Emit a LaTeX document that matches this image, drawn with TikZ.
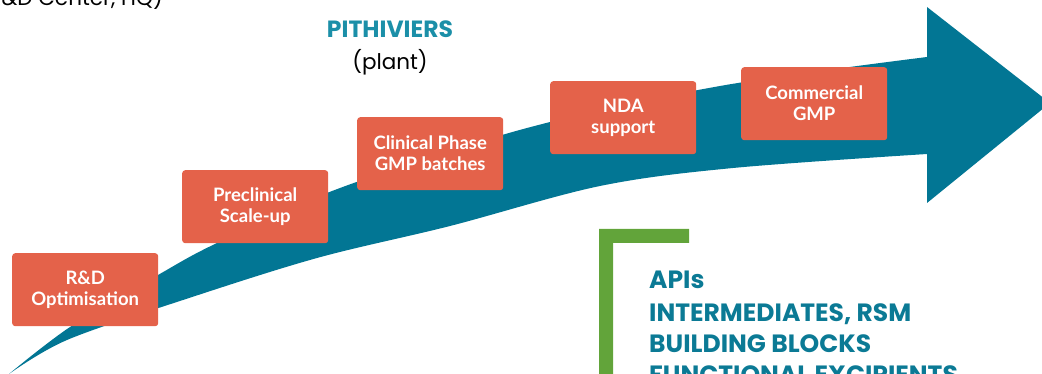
\documentclass[tikz,border=0pt]{standalone}
\usepackage{fontspec}
\setmainfont{Lato}
\newfontfamily\geo{Poppins}
\definecolor{arrowblue}{HTML}{027694}
\definecolor{boxred}{HTML}{E4624A}
\definecolor{brgreen}{HTML}{62A43A}
\definecolor{apiblue}{HTML}{0B7A95}
\definecolor{titleblue}{HTML}{1B8FA8}
\begin{document}
\begin{tikzpicture}[x=1pt,y=-1pt,
  stage/.style={fill=boxred, rounded corners=3pt, text=white,
    font=\bfseries\fontsize{18.5}{21}\selectfont, align=center,
    minimum width=146pt, minimum height=73pt, inner sep=0pt, anchor=north west},
  apiline/.style={anchor=base west, inner sep=0pt, text=apiblue,
    font=\geo\bfseries\fontsize{25}{29}\selectfont},
  blacktxt/.style={inner sep=0pt, text=black, font=\geo\fontsize{21.5}{25}\selectfont}
]
\useasboundingbox (0,0) rectangle (1042,374);
\clip (0,0) rectangle (1042,374);
% arrow
\fill[arrowblue]
  plot[smooth, tension=0.55] coordinates {(9,374) (70,327) (158,275) (217,243) (340,188) (527,128) (720,86) (927,57)}
  -- (927,7) -- (1050,103) -- (927,203) -- (927,154)
  -- plot[smooth, tension=0.55] coordinates {(927,154) (733,168) (600,186) (450,226) (317,258) (183,300) (67,340) (9,374)}
  -- cycle;
% stages
\node[stage] (s1) at (12,253) {R\&D\\Optimisation};
\node[stage] (s2) at (182,170) {Preclinical\\Scale-up};
\node[stage] (s3) at (357,117) {Clinical Phase\\GMP batches};
\node[stage] (s4) at (550,81) {NDA\\support};
\node[stage] (s5) at (741,67) {Commercial\\GMP};
% labels
\node[blacktxt, anchor=base east] (hq) at (163,6) {(R\&D Center, HQ)};
\node[anchor=base, inner sep=0pt, text=titleblue, font=\geo\bfseries\fontsize{23.5}{27}\selectfont] (pit) at (390,38) {PITHIVIERS};
\node[blacktxt, anchor=base] (plant) at (390,70) {(plant)};
% green bracket
\fill[brgreen] (599,229) -- (689,229) -- (689,243) -- (613,243) -- (613,380) -- (599,380) -- cycle;
% API list
\node[apiline] (a1) at (649,289) {APIs};
\node[apiline] (a2) at (649,321) {INTERMEDIATES, RSM};
\node[apiline] (a3) at (649,352) {BUILDING BLOCKS};
\node[apiline] (a4) at (649,383) {FUNCTIONAL EXCIPIENTS};
\end{tikzpicture}
\end{document}
